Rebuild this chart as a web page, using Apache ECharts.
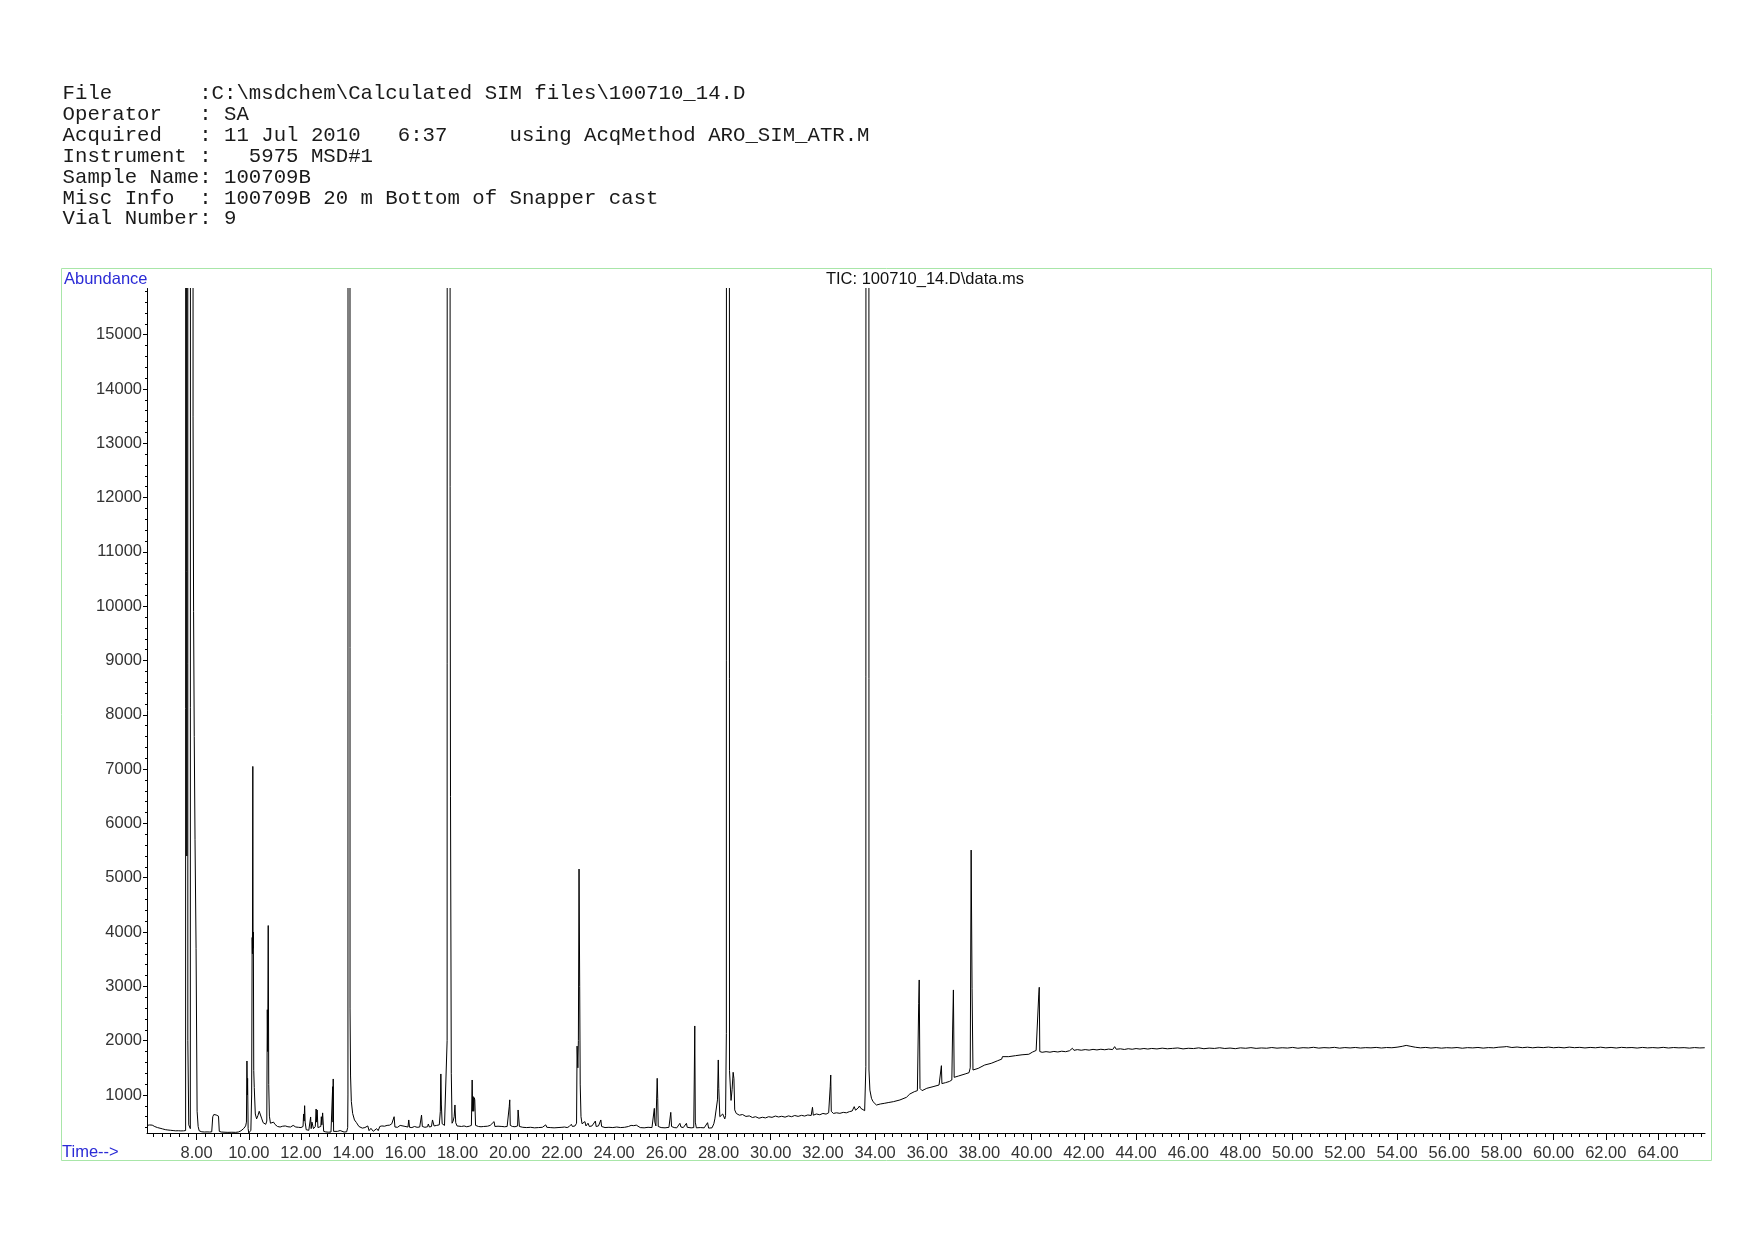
<!DOCTYPE html>
<html>
<head>
<meta charset="utf-8">
<script src="https://cdn.jsdelivr.net/npm/echarts@6/dist/echarts.min.js"></script>
<style>
  html, body { margin: 0; padding: 0; background: #fff; }
  #chart { position: absolute; left: 0; top: 0; width: 1754px; height: 1240px; }
  #header {
    position: absolute; left: 62.6px; top: 84px; margin: 0; z-index: 2;
    font-family: "Liberation Mono", "DejaVu Sans Mono", monospace;
    font-size: 20.7px; line-height: 20.9px; color: #1a1a1a; white-space: pre;
  }
</style>
</head>
<body>
<pre id="header"></pre>
<div id="chart"></div>
<script>
// ---------------- text ----------------
const headerLines = [
  "File       :C:\\msdchem\\Calculated SIM files\\100710_14.D",
  "Operator   : SA",
  "Acquired   : 11 Jul 2010   6:37     using AcqMethod ARO_SIM_ATR.M",
  "Instrument :   5975 MSD#1",
  "Sample Name: 100709B",
  "Misc Info  : 100709B 20 m Bottom of Snapper cast",
  "Vial Number: 9"
];
const chartTitle = "TIC: 100710_14.D\\data.ms";
const yAxisName = "Abundance";
const xAxisName = "Time-->";

// ---------------- axes ----------------
const timeMin = 6.1, timeMax = 65.8;
const abundanceMin = 300, abundanceMax = 15850;
const timeTickLabels = [8,10,12,14,16,18,20,22,24,26,28,30,32,34,36,38,40,42,44,46,48,50,52,54,56,58,60,62,64];
const abundanceTickLabels = [1000,2000,3000,4000,5000,6000,7000,8000,9000,10000,11000,12000,13000,14000,15000];

// ---------------- TIC trace: [retention time (min), abundance] ----------------
const ticEarly = [
  [6.10,440],[6.15,455],[6.20,448],[6.25,462],[6.30,445],[6.35,430],[6.40,418],[6.50,400],[6.60,388],
  [6.70,375],[6.80,362],[6.90,355],[7.00,350],[7.10,345],[7.20,340],[7.25,352],[7.30,342],[7.35,348],
  [7.40,338],[7.50,340],[7.58,345],[7.60,300000],[7.625,5400],[7.645,300000],[7.665,2000],[7.70,450],
  [7.76,380],[7.80,400],[7.825,300000],[7.865,13500],[7.885,9900],[7.91,7600],[7.94,5700],[7.98,3700],
  [8.02,700],[8.06,420],[8.10,340],[8.15,330],[8.20,322],[8.30,318],[8.40,320],[8.50,318],[8.58,322],
  [8.62,600],[8.66,640],[8.70,625],[8.75,632],[8.80,620],[8.84,610],[8.87,330],[8.95,318],[9.05,315],
  [9.20,312],[9.35,314],[9.50,312],[9.60,318],[9.70,340],[9.80,380],[9.88,430],[9.91,500],[9.93,1626],
  [9.945,1000],[9.955,1307],[9.975,380],[10.00,300],[10.05,320],[10.08,350],[10.11,1000],[10.13,3900],
  [10.14,3600],[10.155,7050],[10.165,3700],[10.175,4000],[10.19,1450],[10.21,1140],[10.25,650],
  [10.30,560],[10.35,620],[10.40,700],[10.45,680],[10.50,560],[10.55,490],[10.60,470],[10.65,460],
  [10.69,520],[10.71,2570],[10.725,1800],[10.745,4120],[10.765,1190],[10.79,610],[10.83,480],
  [10.88,465],[10.95,500],[11.00,460],[11.10,420],[11.20,410],[11.30,425],[11.40,430],[11.50,415],
  [11.60,410],[11.70,440],[11.75,435],[11.80,410],[11.90,405],[12.00,400],[12.08,420],[12.10,650],
  [12.12,520],[12.14,803],[12.16,500],[12.20,360],[12.30,350],[12.35,360],[12.37,595],[12.39,380],
  [12.42,500],[12.45,490],[12.48,380],[12.55,420],[12.58,742],[12.60,500],[12.62,724],[12.65,400],
  [12.70,380],[12.76,420],[12.78,600],[12.80,450],[12.83,670],[12.85,650],[12.87,330],[12.95,320],
  [13.05,315],[13.15,318],[13.20,340],[13.215,1153],[13.225,500],[13.235,1295],[13.25,330],[13.30,322],
  [13.40,330],[13.50,345],[13.55,320],[13.65,318],[13.75,322],[13.79,400],[13.80,1000],[13.84,300000],
  [13.88,2600],[13.90,1350],[13.93,880],[13.98,660],[14.05,540],[14.12,495],[14.22,420],[14.35,390]
];
const ticMiddle = [
  [14.45,400],[14.51,386],[14.56,430],[14.61,343],[14.68,386],[14.73,360],[14.77,331],[14.83,312],
  [14.90,380],[14.96,343],[15.02,420],[15.10,430],[15.20,425],[15.30,440],[15.40,445],[15.48,470],
  [15.53,500],[15.57,600],[15.60,410],[15.70,405],[15.80,440],[15.85,405],[15.95,425],[16.02,405],
  [16.10,410],[16.13,540],[16.16,405],[16.25,400],[16.35,420],[16.45,405],[16.55,410],[16.62,630],
  [16.65,420],[16.75,405],[16.85,415],[16.88,466],[16.92,410],[17.00,420],[17.04,540],[17.07,540],
  [17.10,430],[17.20,440],[17.30,450],[17.34,700],[17.36,1387],[17.38,816],[17.41,470],[17.50,440],
  [17.57,450],[17.60,2000],[17.66,300000],[17.715,12200],[17.73,6500],[17.76,1400],[17.79,480],
  [17.83,520],[17.87,600],[17.90,816],[17.93,490],[17.98,430],[18.05,425],[18.15,420],[18.25,430],
  [18.35,415],[18.45,425],[18.53,440],[18.56,1276],[18.58,700],[18.60,970],[18.62,700],[18.64,950],
  [18.66,910],[18.69,440],[18.80,420],[18.90,415],[19.00,420],[19.15,425],[19.25,440],[19.30,420],
  [19.40,510],[19.43,420],[19.55,425],[19.62,450],[19.70,420],[19.80,415],[19.90,420],[19.97,430],
  [19.98,785],[20.00,910],[20.02,440],[20.10,420],[20.20,415],[20.30,430],[20.32,724],[20.35,700],
  [20.37,420],[20.50,405],[20.65,400],[20.80,405],[20.95,395],[21.10,400],[21.25,405],[21.38,450],
  [21.42,405],[21.55,400],[21.70,395],[21.85,400],[22.00,405],[22.10,410],[22.20,400],[22.28,420],
  [22.36,460],[22.40,420],[22.50,430],[22.56,480],[22.58,1900],[22.61,1500],[22.63,2000],[22.655,5160],
  [22.68,3000],[22.70,1200],[22.73,600],[22.77,470],[22.82,440],[22.88,510],[22.92,430],[23.00,480],
  [23.05,420],[23.15,430],[23.28,520],[23.31,420],[23.40,430],[23.49,540],[23.52,420],[23.65,400],
  [23.80,405],[23.95,400],[24.10,410],[24.25,400],[24.40,405],[24.55,420],[24.65,440],[24.75,435],
  [24.85,445],[24.92,420],[25.00,400],[25.15,395],[25.30,405],[25.45,400],[25.52,420],[25.54,754],
  [25.56,500],[25.60,430],[25.65,1307],[25.67,940],[25.69,420],[25.80,400],[25.95,395],[26.10,405],
  [26.17,680],[26.20,420],[26.30,400],[26.40,395],[26.52,478],[26.56,410],[26.65,400],[26.77,478],
  [26.80,405],[26.95,395],[27.05,400],[27.07,1276],[27.09,2271],[27.11,500],[27.15,395],[27.30,400],
  [27.45,395],[27.58,490],[27.62,390],[27.75,395],[27.82,470],[27.86,560],[27.92,540],[27.96,910],
  [27.99,1645],[28.01,1123],[28.05,600],[28.10,580],[28.16,650],[28.20,630],[28.24,560]
];
const ticLate = [
  [28.27,620],[28.30,2135],[28.36,300000],[28.42,1450],[28.48,900],[28.52,1100],[28.56,1418],
  [28.59,1300],[28.62,725],[28.68,660],[28.80,628],[28.92,640],[29.05,605],[29.18,615],[29.30,585],
  [29.42,600],[29.55,572],[29.68,590],[29.80,578],[29.92,600],[30.05,588],[30.18,612],[30.30,595],
  [30.42,608],[30.55,592],[30.68,615],[30.80,600],[30.92,622],[31.05,606],[31.18,625],[31.30,612],
  [31.42,632],[31.55,622],[31.60,773],[31.63,628],[31.75,650],[31.88,636],[32.00,660],[32.12,648],
  [32.22,672],[32.28,1153],[32.30,1368],[32.32,700],[32.40,660],[32.52,672],[32.65,662],[32.78,680],
  [32.90,672],[33.02,694],[33.12,705],[33.20,785],[33.25,720],[33.35,760],[33.40,797],[33.45,755],
  [33.52,724],[33.60,711],[33.645,1520],[33.71,300000],[33.765,1460],
  [33.80,1090],[33.86,940],[33.92,877],[34.05,815],[34.20,834],[34.35,846],[34.50,860],[34.70,877],
  [34.95,908],[35.20,957],[35.33,1018],[35.40,1043],[35.50,1060],[35.62,1080],[35.67,2688],[35.69,3118],
  [35.72,1120],[35.80,1080],[35.98,1123],[36.22,1153],[36.45,1184],[36.52,1200],[36.54,1540],
  [36.56,1210],[36.70,1227],[36.85,1250],[36.94,1276],[36.97,2197],[37.00,2934],[37.03,1325],
  [37.20,1350],[37.45,1387],[37.60,1411],[37.645,1500],[37.68,5510],[37.715,2965],[37.75,1460],
  [37.95,1490],[38.20,1552],[38.45,1583],[38.70,1632],[38.85,1660],[38.88,1706],[38.92,1680],
  [39.12,1706],[39.38,1724],[39.63,1740],[39.89,1750],[40.03,1790],[40.06,1800],[40.10,1790],
  [40.17,1820],[40.24,1810],[40.27,2842],[40.29,2983],[40.31,1800],[40.40,1786],[40.55,1798],
  [40.70,1788],[40.85,1802],[41.00,1792],[41.15,1806],[41.30,1797],[41.45,1815],[41.56,1860],
  [41.62,1822],[41.75,1835],[41.90,1824],[42.05,1836],[42.20,1826],[42.35,1840],[42.50,1830],
  [42.65,1842],[42.80,1833],[42.95,1845],[43.10,1836],[43.18,1890],[43.24,1842],[43.40,1850],
  [43.55,1838],[43.70,1852],[43.85,1842],[44.00,1855],[44.15,1845],[44.30,1856],[44.45,1846],
  [44.60,1857]
];
const ticTail = [
  [44.8,1848],[45.0,1862],[45.2,1851],[45.4,1858],[45.6,1866],[45.8,1849],[46.0,1860],[46.2,1855],
  [46.4,1868],[46.6,1852],[46.8,1863],[47.0,1857],[47.2,1870],[47.4,1856],[47.6,1864],[47.8,1853],
  [48.0,1868],[48.2,1860],[48.4,1872],[48.6,1858],[48.8,1866],[49.0,1861],[49.2,1874],[49.4,1862],
  [49.6,1870],[49.8,1864],[50.0,1876],[50.2,1861],[50.4,1871],[50.6,1866],[50.8,1878],[51.0,1863],
  [51.2,1872],[51.4,1867],[51.6,1877],[51.8,1862],[52.0,1873],[52.2,1866],[52.4,1875],[52.6,1864],
  [52.8,1872],[53.0,1868],[53.2,1876],[53.4,1865],[53.6,1874],[53.8,1870],[54.0,1880],[54.2,1896],
  [54.35,1913],[54.5,1898],[54.7,1879],[54.9,1868],[55.1,1876],[55.3,1864],[55.5,1873],[55.7,1862],
  [55.9,1871],[56.1,1866],[56.3,1874],[56.5,1861],[56.7,1872],[56.9,1867],[57.1,1875],[57.3,1863],
  [57.5,1873],[57.7,1868],[57.9,1880],[58.1,1886],[58.2,1892],[58.4,1874],[58.6,1883],[58.8,1871],
  [59.0,1880],[59.2,1869],[59.4,1879],[59.6,1872],[59.8,1882],[60.0,1870],[60.2,1878],[60.4,1868],
  [60.6,1881],[60.8,1871],[61.0,1877],[61.2,1866],[61.4,1876],[61.6,1869],[61.8,1880],[62.0,1868],
  [62.2,1876],[62.4,1865],[62.6,1877],[62.8,1870],[63.0,1874],[63.2,1864],[63.4,1876],[63.6,1867],
  [63.8,1873],[64.0,1866],[64.2,1877],[64.4,1865],[64.6,1874],[64.8,1868],[65.0,1872],[65.2,1863],
  [65.4,1873],[65.6,1866],[65.79,1870]
];

// ---------------- build ----------------
document.getElementById('header').textContent = headerLines.join('\n');

const ticData = ticEarly.concat(ticMiddle, ticLate, ticTail);

// minor tick positions on the label grid (1/3 min, 200 counts)
const timeMinorTicks = [];
for (let k = Math.ceil(timeMin * 3); k <= Math.floor(timeMax * 3); k++) {
  if (k % 6 !== 0) timeMinorTicks.push(+(k / 3).toFixed(4));
}
const abundanceMinorTicks = [];
for (let v = 400; v < abundanceMax; v += 200) {
  if (v % 1000 !== 0) abundanceMinorTicks.push(v);
}

const labelFont = 'Liberation Sans, Arial, sans-serif';
const blue = '#2b2bd6';
const chart = echarts.init(document.getElementById('chart'), null, { renderer: 'canvas' });

const gridLeft = 147, gridTop = 288.5, gridRight = 1754 - 1705, gridBottom = 1240 - 1133;

chart.setOption({
  animation: false,
  backgroundColor: '#ffffff',
  grid: { left: gridLeft, top: gridTop, right: gridRight, bottom: gridBottom, containLabel: false },
  xAxis: [
    {
      type: 'value', min: timeMin, max: timeMax, position: 'bottom',
      axisLine: { show: true, onZero: false, lineStyle: { color: '#000', width: 1 } },
      axisTick: { show: true, customValues: timeTickLabels, length: 7, lineStyle: { color: '#000' } },
      axisLabel: { customValues: timeTickLabels, formatter: v => Number(v).toFixed(2),
                   color: '#333', fontFamily: labelFont, fontSize: 16.5, margin: 12 },
      splitLine: { show: false }
    },
    {
      type: 'value', min: timeMin, max: timeMax, position: 'bottom',
      axisLine: { show: false, onZero: false },
      axisTick: { show: true, customValues: timeMinorTicks, length: 4, lineStyle: { color: '#000' } },
      axisLabel: { show: false },
      splitLine: { show: false }
    }
  ],
  yAxis: [
    {
      type: 'value', min: abundanceMin, max: abundanceMax, position: 'left',
      axisLine: { show: true, onZero: false, lineStyle: { color: '#000', width: 1 } },
      axisTick: { show: true, customValues: abundanceTickLabels, length: 4, lineStyle: { color: '#000' } },
      axisLabel: { customValues: abundanceTickLabels, formatter: v => String(v),
                   color: '#333', fontFamily: labelFont, fontSize: 16.5, margin: 5 },
      splitLine: { show: false }
    },
    {
      type: 'value', min: abundanceMin, max: abundanceMax, position: 'left',
      axisLine: { show: false, onZero: false },
      axisTick: { show: true, customValues: abundanceMinorTicks, length: 2, lineStyle: { color: '#000' } },
      axisLabel: { show: false },
      splitLine: { show: false }
    }
  ],
  series: [
    {
      type: 'line', xAxisIndex: 0, yAxisIndex: 0, data: ticData,
      showSymbol: false, symbol: 'none', clip: true, sampling: null,
      lineStyle: { color: '#000', width: 1 }
    }
  ],
  graphic: [
    { type: 'rect', silent: true, z: 0,
      shape: { x: 61.5, y: 268.5, width: 1650, height: 892 },
      style: { fill: 'none', stroke: '#a8e6a8', lineWidth: 1 } },
    { type: 'text', left: 64, top: 271,
      style: { text: yAxisName, fill: blue, font: '16.5px ' + labelFont } },
    { type: 'text', left: 62, top: 1144,
      style: { text: xAxisName, fill: blue, font: '16.5px ' + labelFont } },
    { type: 'text', x: 925, y: 279,
      style: { text: chartTitle, fill: '#111', font: '16.5px ' + labelFont, align: 'center', verticalAlign: 'middle' } }
  ]
});
</script>
</body>
</html>
